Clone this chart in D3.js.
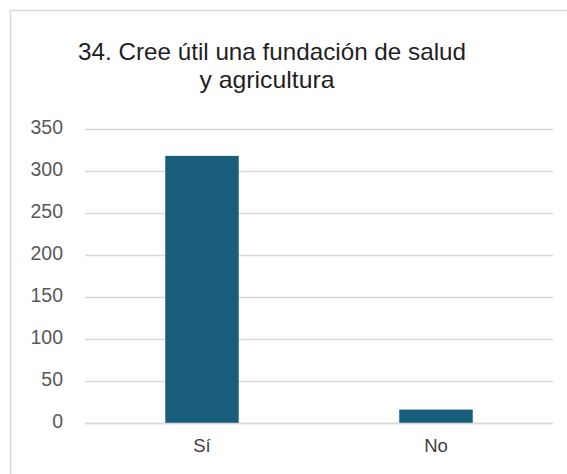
<!DOCTYPE html>
<html>
<head>
<meta charset="utf-8">
<script src="https://cdn.jsdelivr.net/npm/d3@7/dist/d3.min.js"></script>
<style>
  html, body { margin: 0; padding: 0; background: #fff; }
  svg { display: block; font-family: "Liberation Sans", Arial, sans-serif; }
</style>
</head>
<body>
<svg id="chart" width="567" height="474"></svg>
<script>
// Survey question 34: answers and counts
const titleLines = ["34. Cree útil una fundación de salud", "y agricultura"];
const categories = ["Sí", "No"];
const counts = [318, 16];
const yTicks = [0, 50, 100, 150, 200, 250, 300, 350];

const svg = d3.select("#chart");
const W = 567, H = 474;
const margin = { left: 85, right: 14, top: 129, bottom: 51 };

// outer frame (top and left edges visible)
svg.append("path")
  .attr("d", `M10.5,${H} L10.5,10.5 L${W},10.5`)
  .attr("fill", "none")
  .attr("stroke", "#d9d9d9")
  .attr("stroke-width", 1.5);

const x = d3.scaleBand()
  .domain(categories)
  .range([margin.left, W - margin.right])
  .paddingInner(0.686)
  .paddingOuter(0.343);

const y = d3.scaleLinear()
  .domain([0, 350])
  .range([H - margin.bottom, margin.top]);

// horizontal gridlines + tick labels
const yAxis = d3.axisLeft(y)
  .tickValues(yTicks)
  .tickSize(-(W - margin.right - margin.left))
  .tickPadding(22);

const gy = svg.append("g")
  .attr("transform", `translate(${margin.left},0)`)
  .call(yAxis);
gy.select(".domain").remove();
gy.selectAll(".tick line").attr("stroke", "#d9d9d9").attr("stroke-width", 1.3);
gy.selectAll(".tick text")
  .attr("fill", "#595959")
  .attr("dy", "0.24em")
  .style("font-size", "19.5px")
  .style("font-family", "'Liberation Sans', Arial, sans-serif");

// bars
svg.append("g")
  .selectAll("rect")
  .data(categories.map((c, i) => ({ c, v: counts[i] })))
  .join("rect")
  .attr("x", d => x(d.c))
  .attr("y", d => y(d.v))
  .attr("width", x.bandwidth())
  .attr("height", d => y(0) - y(d.v))
  .attr("fill", "#1a5e7e");

// category axis
const xAxis = d3.axisBottom(x).tickSize(0).tickPadding(16);
const gx = svg.append("g")
  .attr("transform", `translate(0,${y(0)})`)
  .call(xAxis);
gx.select(".domain").attr("stroke", "#d9d9d9").attr("stroke-width", 1.3)
  .attr("d", `M${margin.left},0.5H${W - margin.right}`);
gx.selectAll(".tick text")
  .attr("fill", "#404040")
  .style("font-size", "18.5px")
  .style("font-family", "'Liberation Sans', Arial, sans-serif");

// title, two centred lines, slightly condensed
const titleWidths = [388, 135];
const titleCentres = [272, 267];
svg.append("g")
  .attr("class", "title")
  .selectAll("text")
  .data(titleLines)
  .join("text")
  .attr("x", (d, i) => titleCentres[i] - titleWidths[i] / 2)
  .attr("y", (d, i) => 60 + i * 27.5)
  .attr("textLength", (d, i) => titleWidths[i])
  .attr("lengthAdjust", "spacingAndGlyphs")
  .attr("fill", "#1f1f1f")
  .style("font-size", "24px")
  .text(d => d);
</script>
</body>
</html>
